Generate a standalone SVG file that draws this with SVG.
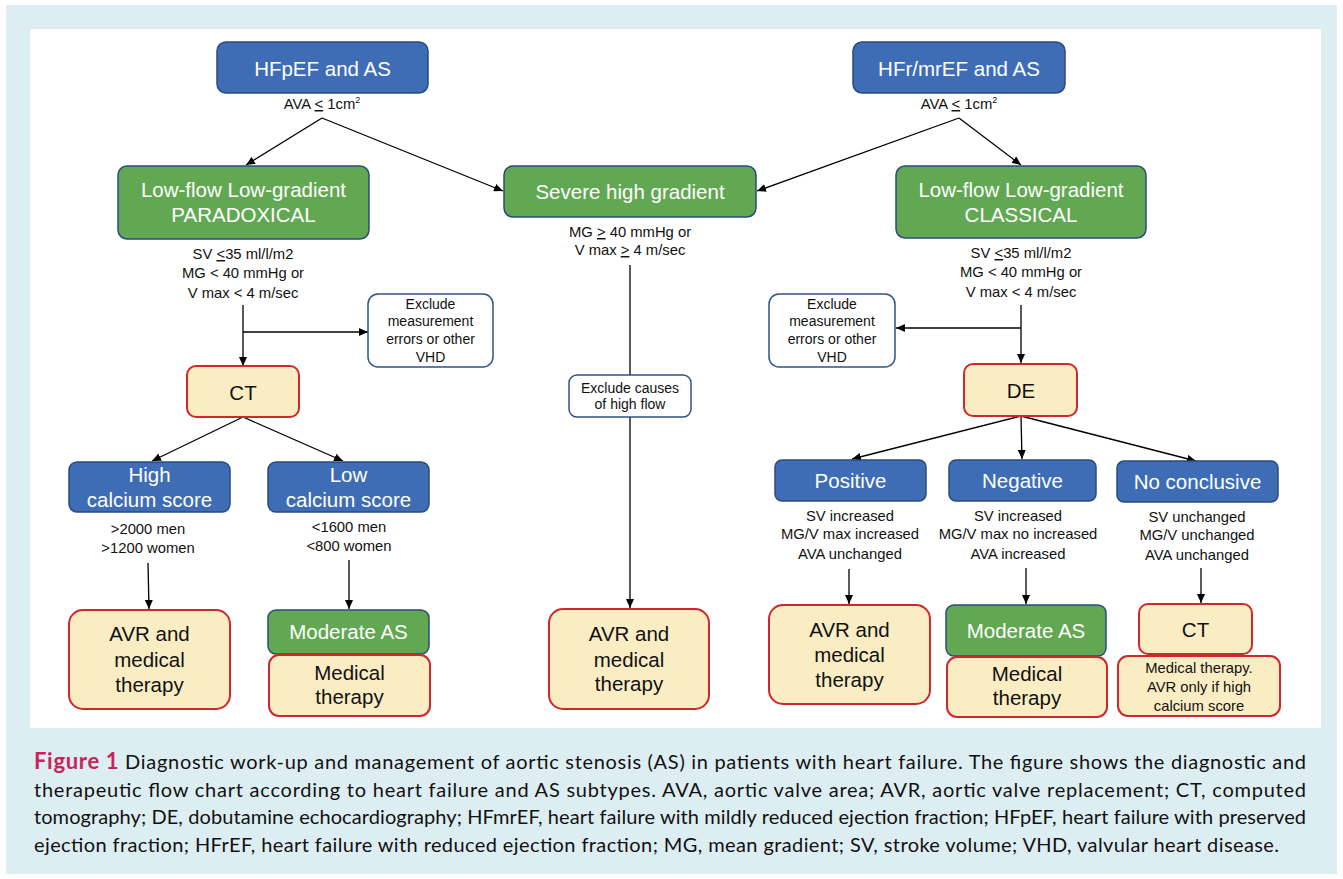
<svg xmlns="http://www.w3.org/2000/svg" width="1343" height="879" viewBox="0 0 1343 879">
<defs>
<marker id="ah" markerUnits="userSpaceOnUse" markerWidth="9" markerHeight="8" refX="9" refY="4" orient="auto">
<path d="M0,0 L9,4 L0,8 z" fill="#000"/>
</marker>
<style>
.bl{fill:#3E6DB5;stroke:#2A4B7C;stroke-width:1.5}
.gr{fill:#62A853;stroke:#2A4B7C;stroke-width:1.5}
.yl{fill:#FBEDC3;stroke:#D1262C;stroke-width:2}
.ex{fill:#fff;stroke:#2F5288;stroke-width:1.5}
text{font-family:"Liberation Sans",Arial,sans-serif;text-anchor:middle}
.w{fill:#fff;font-size:20.5px}
.k{fill:#111;font-size:20.5px}
.s{fill:#111;font-size:14.8px}
.e{fill:#111;font-size:14px}
.u{text-decoration:underline}
.cap{font-family:Lato,"Open Sans",sans-serif;font-size:20px;fill:#111;text-anchor:start}
.con{stroke:#000;stroke-width:1.3;fill:none}
</style>
</defs>
<rect x="6" y="5" width="1331" height="869" fill="#DDEEF3"/>
<rect x="30" y="29" width="1291" height="699" fill="#fff"/>

<g id="connectors">
<path class="con" d="M322,118 L246,165" marker-end="url(#ah)"/>
<path class="con" d="M322,118 L503,191" marker-end="url(#ah)"/>
<path class="con" d="M959,118 L757,191" marker-end="url(#ah)"/>
<path class="con" d="M959,118 L1021,165" marker-end="url(#ah)"/>
<path class="con" d="M243,305 L243,366" marker-end="url(#ah)"/>
<path class="con" d="M243,332 L368,332" marker-end="url(#ah)"/>
<path class="con" d="M243,417 L152,461" marker-end="url(#ah)"/>
<path class="con" d="M243,417 L343,461" marker-end="url(#ah)"/>
<path class="con" d="M148,563 L149,609" marker-end="url(#ah)"/>
<path class="con" d="M349,560 L349,609" marker-end="url(#ah)"/>
<path class="con" d="M630,265 L630,375"/>
<path class="con" d="M630,417 L630,608" marker-end="url(#ah)"/>
<path class="con" d="M1021,305 L1021,363" marker-end="url(#ah)"/>
<path class="con" d="M1021,328 L896,328" marker-end="url(#ah)"/>
<path class="con" d="M1021,416 L852,459" marker-end="url(#ah)"/>
<path class="con" d="M1021,416 L1022,459" marker-end="url(#ah)"/>
<path class="con" d="M1021,416 L1196,461" marker-end="url(#ah)"/>
<path class="con" d="M849,569 L849,604" marker-end="url(#ah)"/>
<path class="con" d="M1026,568 L1026,604" marker-end="url(#ah)"/>
<path class="con" d="M1201,568 L1201,603" marker-end="url(#ah)"/>
</g>

<g id="hfpef">
<rect class="bl" x="217" y="42" width="211" height="51" rx="9"/>
<text class="w" x="322.5" y="75.5">HFpEF and AS</text>
<text class="s" x="322" y="109">AVA <tspan class="u">&lt;</tspan> 1cm<tspan font-size="9" dy="-6">2</tspan></text>
</g>

<g id="hfrmref">
<rect class="bl" x="853" y="42" width="212" height="51" rx="9"/>
<text class="w" x="959" y="75.5">HFr/mrEF and AS</text>
<text class="s" x="959" y="109">AVA <tspan class="u">&lt;</tspan> 1cm<tspan font-size="9" dy="-6">2</tspan></text>
</g>

<g id="paradoxical">
<rect class="gr" x="118" y="166" width="251" height="73" rx="9"/>
<text class="w" x="243.5" y="197">Low-flow Low-gradient</text>
<text class="w" x="243.5" y="222">PARADOXICAL</text>
<text class="s" x="243" y="259">SV <tspan class="u">&lt;</tspan>35 ml/l/m2</text>
<text class="s" x="243" y="278">MG &lt; 40 mmHg or</text>
<text class="s" x="243" y="298">V max &lt; 4 m/sec</text>
</g>

<g id="severe">
<rect class="gr" x="504" y="166" width="252" height="51" rx="9"/>
<text class="w" x="630" y="199">Severe high gradient</text>
<text class="s" x="630" y="237">MG <tspan class="u">&gt;</tspan> 40 mmHg or</text>
<text class="s" x="630" y="255">V max <tspan class="u">&gt;</tspan> 4 m/sec</text>
</g>

<g id="classical">
<rect class="gr" x="896" y="166" width="250" height="72" rx="9"/>
<text class="w" x="1021" y="197">Low-flow Low-gradient</text>
<text class="w" x="1021" y="222">CLASSICAL</text>
<text class="s" x="1021" y="258">SV <tspan class="u">&lt;</tspan>35 ml/l/m2</text>
<text class="s" x="1021" y="277">MG &lt; 40 mmHg or</text>
<text class="s" x="1021" y="297">V max &lt; 4 m/sec</text>
</g>

<g id="exclude-left">
<rect class="ex" x="368" y="294" width="125" height="73" rx="10"/>
<text class="e" x="430.5" y="309">Exclude</text>
<text class="e" x="430.5" y="326">measurement</text>
<text class="e" x="430.5" y="344">errors or other</text>
<text class="e" x="430.5" y="362">VHD</text>
</g>

<g id="exclude-right">
<rect class="ex" x="769" y="294" width="126" height="73" rx="10"/>
<text class="e" x="832" y="309">Exclude</text>
<text class="e" x="832" y="326">measurement</text>
<text class="e" x="832" y="344">errors or other</text>
<text class="e" x="832" y="362">VHD</text>
</g>

<g id="exclude-flow">
<rect class="ex" x="569" y="375" width="122" height="42" rx="8"/>
<text class="e" x="630" y="393">Exclude causes</text>
<text class="e" x="630" y="409">of high flow</text>
</g>

<g id="ct-left">
<rect class="yl" x="187" y="366" width="112" height="51" rx="9"/>
<text class="k" x="243" y="400">CT</text>
</g>

<g id="de">
<rect class="yl" x="964" y="364" width="113" height="52" rx="9"/>
<text class="k" x="1021" y="398">DE</text>
</g>

<g id="high-calcium">
<rect class="bl" x="69" y="462" width="161" height="50" rx="8"/>
<text class="w" x="149.5" y="482">High</text>
<text class="w" x="149.5" y="507">calcium score</text>
<text class="s" x="148" y="534">&gt;2000 men</text>
<text class="s" x="148" y="553">&gt;1200 women</text>
</g>

<g id="low-calcium">
<rect class="bl" x="268" y="462" width="161" height="50" rx="8"/>
<text class="w" x="348.5" y="482">Low</text>
<text class="w" x="348.5" y="507">calcium score</text>
<text class="s" x="349" y="532">&lt;1600 men</text>
<text class="s" x="349" y="551">&lt;800 women</text>
</g>

<g id="positive">
<rect class="bl" x="775" y="460" width="151" height="41" rx="7"/>
<text class="w" x="850.5" y="488">Positive</text>
<text class="s" x="850" y="521">SV increased</text>
<text class="s" x="850" y="539">MG/V max increased</text>
<text class="s" x="850" y="559">AVA unchanged</text>
</g>

<g id="negative">
<rect class="bl" x="949" y="460" width="147" height="41" rx="7"/>
<text class="w" x="1022.5" y="488">Negative</text>
<text class="s" x="1018" y="521">SV increased</text>
<text class="s" x="1018" y="539">MG/V max no increased</text>
<text class="s" x="1018" y="559">AVA increased</text>
</g>

<g id="noconclusive">
<rect class="bl" x="1117" y="461" width="161" height="41" rx="7"/>
<text class="w" x="1197.5" y="489">No conclusive</text>
<text class="s" x="1197" y="522">SV unchanged</text>
<text class="s" x="1197" y="540">MG/V unchanged</text>
<text class="s" x="1197" y="560">AVA unchanged</text>
</g>

<g id="avr-left">
<rect class="yl" x="69" y="610" width="161" height="99" rx="14"/>
<text class="k" x="149.5" y="641">AVR and</text>
<text class="k" x="149.5" y="667">medical</text>
<text class="k" x="149.5" y="692">therapy</text>
</g>

<g id="moderate-left">
<rect class="gr" x="268" y="610" width="161" height="44" rx="8"/>
<text class="w" x="348.5" y="639" font-size="19.5">Moderate AS</text>
</g>

<g id="medical-left">
<rect class="yl" x="269" y="655" width="161" height="61" rx="10"/>
<text class="k" x="349.5" y="680">Medical</text>
<text class="k" x="349.5" y="704">therapy</text>
</g>

<g id="avr-middle">
<rect class="yl" x="549" y="609" width="160" height="100" rx="14"/>
<text class="k" x="629" y="641">AVR and</text>
<text class="k" x="629" y="667">medical</text>
<text class="k" x="629" y="691">therapy</text>
</g>

<g id="avr-right">
<rect class="yl" x="769" y="605" width="161" height="99" rx="14"/>
<text class="k" x="849.5" y="637">AVR and</text>
<text class="k" x="849.5" y="662">medical</text>
<text class="k" x="849.5" y="687">therapy</text>
</g>

<g id="moderate-right">
<rect class="gr" x="946" y="605" width="160" height="51" rx="8"/>
<text class="w" x="1026" y="638" font-size="19.5">Moderate AS</text>
</g>

<g id="medical-right">
<rect class="yl" x="947" y="657" width="160" height="60" rx="10"/>
<text class="k" x="1027" y="681">Medical</text>
<text class="k" x="1027" y="705">therapy</text>
</g>

<g id="ct-right">
<rect class="yl" x="1139" y="604" width="113" height="50" rx="9"/>
<text class="k" x="1195.5" y="637">CT</text>
</g>

<g id="medical-ct">
<rect class="yl" x="1118" y="656" width="162" height="60" rx="10"/>
<text class="s" x="1199" y="673">Medical therapy.</text>
<text class="s" x="1199" y="692">AVR only if high</text>
<text class="s" x="1199" y="711">calcium score</text>
</g>

<g id="caption">
<text class="cap" x="34" y="769" textLength="1272" lengthAdjust="spacing"><tspan fill="#C8245A" font-weight="bold" font-size="22">Figure 1</tspan> Diagnostic work-up and management of aortic stenosis (AS) in patients with heart failure. The figure shows the diagnostic and</text>
<text class="cap" x="34" y="797" textLength="1272" lengthAdjust="spacing">therapeutic flow chart according to heart failure and AS subtypes. AVA, aortic valve area; AVR, aortic valve replacement; CT, computed</text>
<text class="cap" x="34" y="824" textLength="1272" lengthAdjust="spacing">tomography; DE, dobutamine echocardiography; HFmrEF, heart failure with mildly reduced ejection fraction; HFpEF, heart failure with preserved</text>
<text class="cap" x="34" y="852" textLength="1245" lengthAdjust="spacing">ejection fraction; HFrEF, heart failure with reduced ejection fraction; MG, mean gradient; SV, stroke volume; VHD, valvular heart disease.</text>
</g>
</svg>
